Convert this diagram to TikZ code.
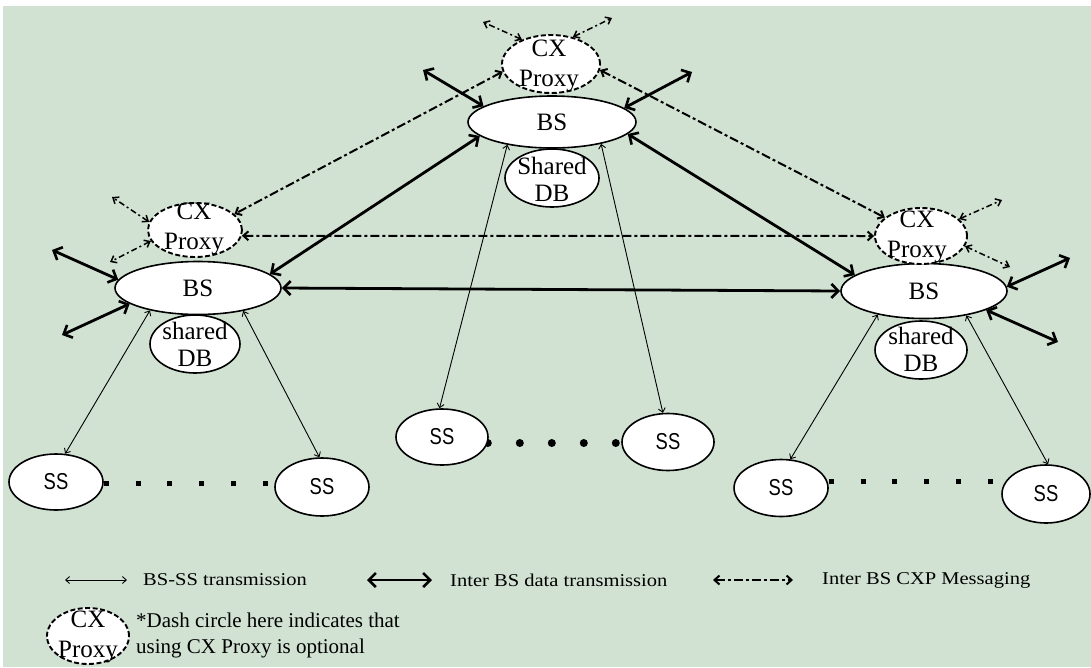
\documentclass[tikz,border=0pt]{standalone}
\usepackage{fontspec}
\setmainfont{Liberation Serif}
\newfontfamily\ssfont{Liberation Sans}
\usetikzlibrary{arrows.meta,shapes.geometric,calc}
\definecolor{bg}{RGB}{209,226,211}
\pgfdeclarelayer{back}
\pgfsetlayers{back,main}
\begin{document}
\begin{tikzpicture}[x=1pt,y=-1pt,
  el/.style={ellipse,draw=black,fill=white,line width=1.6pt,inner sep=0pt},
  bsnode/.style={el,font=\fontsize{25}{28}\selectfont},
  proxynode/.style={el,line width=1.9pt,dash pattern=on 5pt off 2.5pt},
  dbnode/.style={el},
  ssnode/.style={el,font=\ssfont\fontsize{23}{26}\selectfont},
  txt/.style={inner sep=0pt,align=center,font=\fontsize{25}{30}\selectfont},
  dbtxt/.style={inner sep=0pt,align=center,font=\fontsize{25}{27}\selectfont},
  thinarr/.style={line width=0.9pt,{Straight Barb[length=4pt,width=7pt]}-{Straight Barb[length=4pt,width=7pt]}},
  thickarr/.style={line width=2.8pt,{Straight Barb[length=7pt,width=14pt,line width=2.6pt]}-{Straight Barb[length=7pt,width=14pt,line width=2.6pt]}},
  cxarr/.style={line width=2pt,dash pattern=on 9pt off 3pt on 3pt off 3pt,{Straight Barb[length=5pt,width=9pt]}-{Straight Barb[length=5pt,width=9pt]}},
  cxout/.style={line width=1.5pt,dash pattern=on 6pt off 3pt on 2pt off 3pt,{Straight Barb[length=5pt,width=8pt]}-{Straight Barb[length=5pt,width=8pt]}},
  sqdots/.style={line width=5pt,line cap=butt,dash pattern=on 5pt off 26.8pt},
  rddots/.style={line width=8pt,line cap=round,dash pattern=on 0pt off 32pt},
  legtxt/.style={anchor=west,inner sep=0pt,xscale=1.14,font=\fontsize{18}{20}\selectfont},
]
\newcommand\sstext{\scalebox{0.8}[1]{SS}}
\useasboundingbox (0,0) rectangle (1091,667);
\begin{pgfonlayer}{back}
\fill[white] (0,0) rectangle (1091,667);
\fill[bg] (3,6) rectangle (1091,667);
\end{pgfonlayer}

% SS nodes
\node[ssnode,minimum width=94pt,minimum height=56pt] (s1) at (56,482) {\sstext};
\node[ssnode,minimum width=94pt,minimum height=58pt] (s2) at (322,487) {\sstext};
\node[ssnode,minimum width=92pt,minimum height=56pt] (s3) at (442,437) {\sstext};
\node[ssnode,minimum width=92pt,minimum height=57pt] (s4) at (668,442) {\sstext};
\node[ssnode,minimum width=94pt,minimum height=57pt] (s5) at (781,488) {\sstext};
\node[ssnode,minimum width=88pt,minimum height=58pt] (s6) at (1046,494) {\sstext};
% dots between SS (behind the ellipses)
\coordinate (dl) at (0,483);
\coordinate (dm) at (0,443);
\coordinate (dr) at (0,481);
\begin{pgfonlayer}{back}
\draw[sqdots] (s1.east |- dl) -- (s2.west |- dl);
\draw[rddots] ([xshift=-1pt]s3.east |- dm) -- (s4.west |- dm);
\draw[sqdots] (s5.east |- dr) -- (s6.west |- dr);
\end{pgfonlayer}

% shared DB
\node[dbnode,minimum width=94pt,minimum height=58pt] (dbT) at (552,178) {};
\node[dbnode,minimum width=90pt,minimum height=58pt] (dbL) at (195,344) {};
\node[dbnode,minimum width=92pt,minimum height=58pt] (dbR) at (921,350) {};
% BS
\node[bsnode,minimum width=168pt,minimum height=52pt] (bsT) at (552,122) {BS};
\node[bsnode,minimum width=166pt,minimum height=53pt] (bsL) at (198,288) {BS};
\node[bsnode,minimum width=166pt,minimum height=55pt] (bsR) at (924,291) {BS};
% proxies
\node[proxynode,minimum width=98pt,minimum height=58pt] (pxT) at (551,64) {};
\node[proxynode,minimum width=94pt,minimum height=54pt] (pxL) at (195,230) {};
\node[proxynode,minimum width=92pt,minimum height=56pt] (pxR) at (921,236) {};

% texts
\node[txt] (pxTt) at (549,66) {CX\\Proxy};
\node[txt] (pxLt) at (194,229) {CX\\Proxy};
\node[txt] (pxRt) at (917,237) {CX\\Proxy};
\node[dbtxt] (dbTt) at (552,179) {Shared\\DB};
\node[dbtxt] (dbLt) at (195,344) {shared\\DB};
\node[dbtxt] (dbRt) at (921,349) {shared\\DB};

% external end points
\coordinate (eTl) at (423,70);
\coordinate (eTr) at (692,72);
\coordinate (eLu) at (52,250);
\coordinate (eLd) at (62,335);
\coordinate (eRu) at (1070,258);
\coordinate (eRd) at (1058,342);
\coordinate (pTl) at (483,22);
\coordinate (pTr) at (612,18);
\coordinate (pLu) at (112,197);
\coordinate (pLd) at (110,262);
\coordinate (pRu) at (1002,200);
\coordinate (pRd) at (1010,267);

% BS-SS
\draw[thinarr] (bsL.205) -- (s1.72);
\draw[thinarr] (bsL.333) -- (s2.95);
\draw[thinarr] (bsT.207) -- (s3.95);
\draw[thinarr] (bsT.336) -- (s4.100);
\draw[thinarr] (bsR.207) -- (s5.72);
\draw[thinarr] (bsR.330) -- (s6.86);

% inter BS
\draw[thickarr] (bsL.11) -- (bsT.191);
\draw[thickarr] (bsL.0) -- (bsR.180);
\draw[thickarr] (bsT.351) -- (bsR.167);
\draw[thickarr] (bsT.167) -- (eTl);
\draw[thickarr] (bsT.11) -- (eTr);
\draw[thickarr] (bsL.174) -- (eLu);
\draw[thickarr] (bsL.193) -- (eLd);
\draw[thickarr] (bsR.3) -- (eRu);
\draw[thickarr] (bsR.343) -- (eRd);

% CXP messaging
\draw[cxarr] (pxT.189) -- (pxL.22);
\draw[cxarr] (pxT.353) -- (pxR.153);
\draw[cxarr] (pxL.353) -- (pxR.180);
\draw[cxout] (pxT.140) -- (pTl);
\draw[cxout] (pxT.51) -- (pTr);
\draw[cxout] (pxL.170) -- (pLu);
\draw[cxout] (pxL.194) -- (pLd);
\draw[cxout] (pxR.24) -- (pRu);
\draw[cxout] (pxR.347) -- (pRd);

% legend
\coordinate (l1a) at (65,580); \coordinate (l1b) at (127,580);
\coordinate (l2a) at (367,580); \coordinate (l2b) at (432,580);
\coordinate (l3a) at (713,580); \coordinate (l3b) at (793,580);
\draw[thinarr] (l1a) -- (l1b);
\draw[thickarr] (l2a) -- (l2b);
\draw[cxarr] (l3a) -- (l3b);
\node[legtxt] (lt1) at (143,580) {BS-SS transmission};
\node[legtxt] (lt2) at (450,580) {Inter BS data transmission};
\node[legtxt] (lt3) at (822,580) {Inter BS CXP Messaging};
\node[proxynode,minimum width=82pt,minimum height=56pt] (pxLeg) at (88,636) {};
\node[txt] (pxLegt) at (88,637) {CX\\Proxy};
\node[anchor=west,inner sep=0pt,align=left,font=\fontsize{21}{26}\selectfont] (note) at (136,635) {*Dash circle here indicates that\\using CX Proxy is optional};
\end{tikzpicture}
\end{document}
